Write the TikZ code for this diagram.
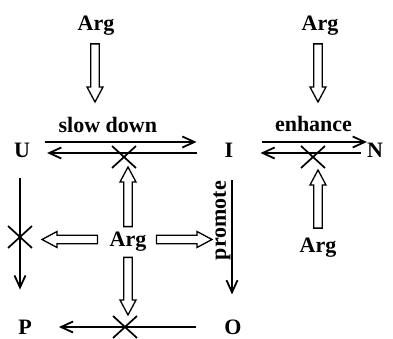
\documentclass[tikz,border=0pt]{standalone}
\usepackage{fontspec}
\setmainfont{Liberation Serif}
\usetikzlibrary{arrows.meta,calc}

% hollow block arrow between two points, #1 = gap at the tail
\newcommand\hollowarrow[3][8]{%
  \draw[hollow] let \p1=(#2), \p2=(#3),
    \n1={atan2(\y2-\y1,\x2-\x1)}, \n2={veclen(\x2-\x1,\y2-\y1)} in
    [shift={(\p1)}, rotate=\n1]
    (#1,-4.3) -- (\n2-15,-4.3) -- (\n2-15,-8) -- (\n2,0)
    -- (\n2-15,8) -- (\n2-15,4.3) -- (#1,4.3) -- cycle;}

\begin{document}
\begin{tikzpicture}[
    x=1pt, y=1pt,
    font=\fontsize{22}{26}\selectfont\bfseries,
    lbl/.style={inner sep=0pt},
    arr/.style={line width=1.8pt, -{Straight Barb[length=12pt,width=11pt]}},
    hollow/.style={draw, line width=1.3pt, fill=white},
    xmark/.pic={\draw[line width=1.7pt] (-12,-11) -- (12,11) (-12,11) -- (12,-11);}
]
    \useasboundingbox (0,0) rectangle (393,339);

    \node[lbl] (argTL) at (96,313) {Arg};
    \node[lbl] (argTR) at (320,313) {Arg};
    \node[lbl] (U) at (22,189) {U};
    \node[lbl] (I) at (229,189) {I};
    \node[lbl] (N) at (375,189) {N};
    \node[lbl] (argM) at (128,97.5) {Arg};
    \node[lbl] (argBR) at (318,91) {Arg};
    \node[lbl] (P) at (25,12) {P};
    \node[lbl] (O) at (233,12) {O};

    % U <-> I
    \draw[arr, shorten <=15pt, shorten >=28pt] ([yshift=8pt]U.east) -- node[lbl, above=8pt, pos=0.4] {slow down} ([yshift=8pt]I.west);
    \draw[arr, shorten <=28pt, shorten >=17pt] ([yshift=-3pt]I.west) -- ([yshift=-3pt]U.east);
    % I <-> N
    \draw[arr, shorten <=29pt] ([yshift=8pt]I.east) -- node[lbl, above=9pt, pos=0.6] {enhance} ([yshift=8pt]N.west);
    \draw[arr, shorten <=6pt, shorten >=27pt] ([yshift=-3pt]N.west) -- ([yshift=-3pt]I.east);
    % down and across
    \draw[arr, shorten <=21pt, shorten >=30pt] ([xshift=-2pt]U.south) -- ([xshift=-5pt]P.north);
    \draw[arr, shorten <=28pt, shorten >=27pt] (O.west) -- (P.east);
    \draw[arr, shorten <=23pt, shorten >=25pt] ([xshift=3pt]I.south) -- node[lbl, pos=0.39, xshift=-10pt, rotate=90] {promote} ([xshift=-1pt]O.north);

    \coordinate (tipTL) at (95,237);
    \coordinate (tipTR) at (318,237);
    \coordinate (tipBR) at (318,169);
    \coordinate (tipU) at (128,172);
    \coordinate (tipL) at (42,99.5);
    \coordinate (tipR) at (212,99.5);
    \coordinate (tipD) at (128,24);

    \hollowarrow{[xshift=-1pt]argTL.south}{tipTL}
    \hollowarrow{[xshift=-2pt]argTR.south}{tipTR}
    \hollowarrow[10]{argBR.north}{tipBR}
    \hollowarrow[5]{argM.north}{tipU}
    \hollowarrow[12]{[yshift=2pt]argM.west}{tipL}
    \hollowarrow[10]{[yshift=2pt]argM.east}{tipR}
    \hollowarrow[6]{argM.south}{tipD}

    \pic at (124,182) {xmark};
    \pic at (313,182) {xmark};
    \pic at (125,12) {xmark};
    \pic at (20,102) {xmark};
\end{tikzpicture}
\end{document}
